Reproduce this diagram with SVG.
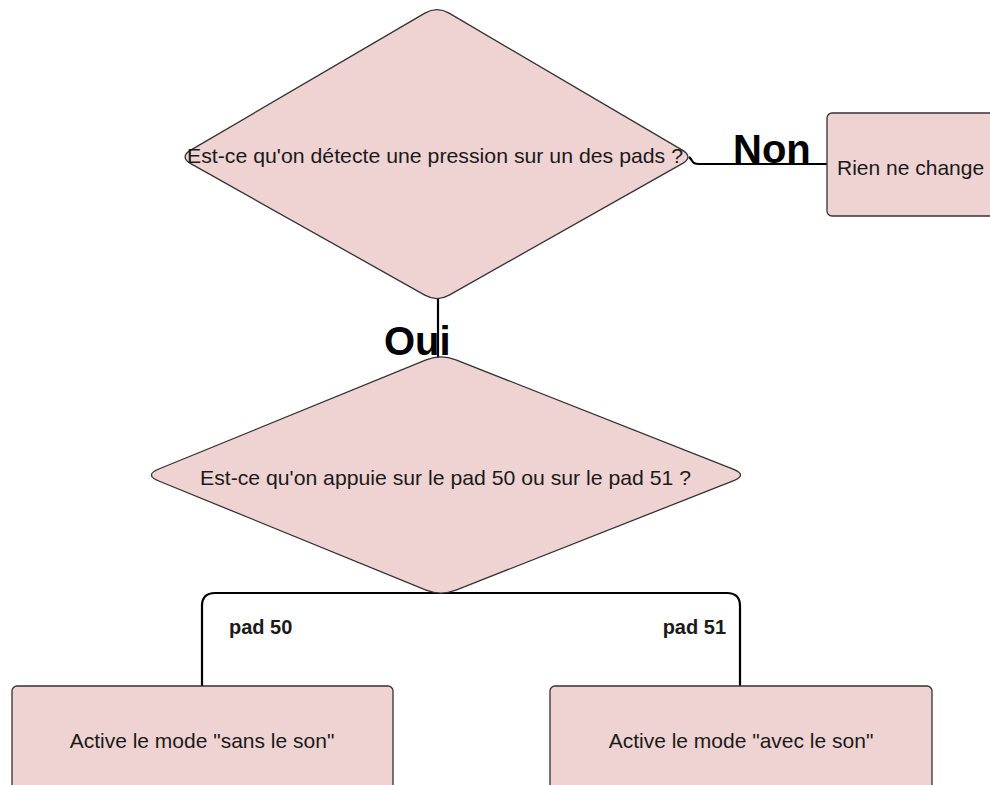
<svg xmlns="http://www.w3.org/2000/svg" width="990" height="785" viewBox="0 0 990 785">
  <style>
    .shape { fill: #EFD2D2; stroke: #333333; stroke-width: 1.3; }
    .edge { fill: none; stroke: #000000; stroke-width: 2.2; }
    .txt { font-family: "Liberation Sans", Arial, sans-serif; font-size: 21px; fill: #1a1a1a; }
    .big { font-family: "Liberation Sans", Arial, sans-serif; font-size: 40px; font-weight: bold; fill: #000000; }
    .lbl { font-family: "Liberation Sans", Arial, sans-serif; font-size: 20px; font-weight: bold; fill: #1a1a1a; }
  </style>
  <rect width="990" height="785" fill="#ffffff"/>

  <!-- connectors -->
  <g id="connectors">
    <path class="edge" d="M 689,157 C 693,160 691,164 699,164 L 827,164"/>
    <path class="edge" d="M 438,298 L 438,358"/>
    <path class="edge" stroke-width="2.6" d="M 202,686 L 202,606 Q 202,593 215,593 L 727,593 Q 740,593 740,606 L 740,686"/>
    <text class="big" x="733" y="163">Non</text>
    <text class="big" x="384" y="355" font-size="43">Oui</text>
    <text class="lbl" x="229" y="634">pad 50</text>
    <text class="lbl" x="726" y="634" text-anchor="end">pad 51</text>
  </g>

  <!-- decision: pressure detected -->
  <g id="decision-pression">
    <path class="shape" d="M 449.1,13.1 L 681.9,149.9 Q 694,157 681.8,163.9 L 449.2,295.1 Q 437,302 424.8,295.1 L 191.2,163.9 Q 179,157 191.1,149.9 L 424.9,13.1 Q 437,6 449.1,13.1 Z"/>
    <text class="txt" x="187" y="163" textLength="496" lengthAdjust="spacingAndGlyphs">Est-ce qu'on détecte une pression sur un des pads ?</text>
  </g>

  <!-- outcome: nothing changes -->
  <g id="rien-ne-change">
    <rect class="shape" x="827" y="113" width="200" height="103" rx="5"/>
    <text class="txt" x="837" y="175">Rien ne change</text>
  </g>

  <!-- decision: which pad -->
  <g id="decision-pad">
    <path class="shape" d="M 455.9,359.9 L 733.1,469.1 Q 748,475 733.1,480.9 L 455.9,590.1 Q 441,596 426.1,590.1 L 158.8,481 Q 144,475 158.8,469 L 426.1,359.9 Q 441,354 455.9,359.9 Z"/>
    <text class="txt" x="200" y="485" textLength="491" lengthAdjust="spacingAndGlyphs">Est-ce qu'on appuie sur le pad 50 ou sur le pad 51 ?</text>
  </g>

  <!-- outcome: silent mode -->
  <g id="mode-sans-son">
    <rect class="shape" x="12" y="686" width="381" height="130" rx="5"/>
    <text class="txt" x="202" y="748" text-anchor="middle">Active le mode "sans le son"</text>
  </g>

  <!-- outcome: sound mode -->
  <g id="mode-avec-son">
    <rect class="shape" x="550" y="686" width="382" height="130" rx="5"/>
    <text class="txt" x="741" y="748" text-anchor="middle">Active le mode "avec le son"</text>
  </g>
</svg>
